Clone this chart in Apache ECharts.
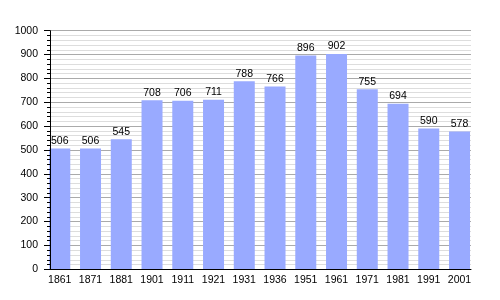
<!DOCTYPE html>
<html>
<head>
<meta charset="utf-8">
<script src="https://cdn.jsdelivr.net/npm/echarts@6/dist/echarts.min.js"></script>
<style>
html,body{margin:0;padding:0;background:#fff;}
#c{width:500px;height:300px;}
</style>
</head>
<body>
<div id="c"></div>
<script>
const years = ['1861','1871','1881','1901','1911','1921','1931','1936','1951','1961','1971','1981','1991','2001'];
const population = [506,506,545,708,706,711,788,766,896,902,755,694,590,578];
const yMin = 0, yMax = 1000, yStep = 100;

const font = 'Liberation Sans, Arial, sans-serif';
const chart = echarts.init(document.getElementById('c'), null, {renderer:'canvas'});
chart.setOption({
  animation:false,
  backgroundColor:'#fff',
  grid:[
    {left:50, top:30.7, width:421, height:238.6},
    {left:44.4, top:30.7, width:430.5, height:238.6}
  ],
  xAxis:[
    {gridIndex:0, type:'value', min:0, max:1, z:10,
     axisLine:{show:true, onZero:false, lineStyle:{color:'#000', width:1}},
     axisTick:{show:false}, axisLabel:{show:false}, splitLine:{show:false}},
    {gridIndex:1, type:'category', data:years,
     axisLine:{show:false}, axisTick:{show:false},
     axisLabel:{color:'#000', fontSize:10.5, fontFamily:font, margin:5, interval:0}}
  ],
  yAxis:[
    {gridIndex:0, type:'value', min:yMin, max:yMax, interval:yStep, z:0,
     axisLine:{show:false}, axisTick:{show:false}, axisLabel:{show:false},
     splitLine:{show:true, lineStyle:{color:'#aaaaaa', width:1}},
     minorTick:{show:false, splitNumber:5},
     minorSplitLine:{show:true, lineStyle:{color:'#dddddd', width:1}}},
    {gridIndex:0, type:'value', position:'left', min:yMin, max:yMax, interval:yStep, z:10,
     axisLine:{show:true, lineStyle:{color:'#000', width:1}},
     axisTick:{show:true, length:6, lineStyle:{color:'#000'}},
     minorTick:{show:true, splitNumber:5, length:3, lineStyle:{color:'#000'}},
     splitLine:{show:false},
     axisLabel:{color:'#000', fontSize:10.5, fontFamily:font, margin:12, formatter:v => String(v)}},
    {gridIndex:1, type:'value', min:yMin, max:yMax, show:false, splitLine:{show:false}}
  ],
  series:[{
    type:'bar', xAxisIndex:1, yAxisIndex:2, data:population, barWidth:21, z:2,
    itemStyle:{color:'#99aaff'},
    label:{show:true, position:'top', distance:2, color:'#000', fontSize:10.5, fontFamily:font}
  }]
});
</script>
</body>
</html>
